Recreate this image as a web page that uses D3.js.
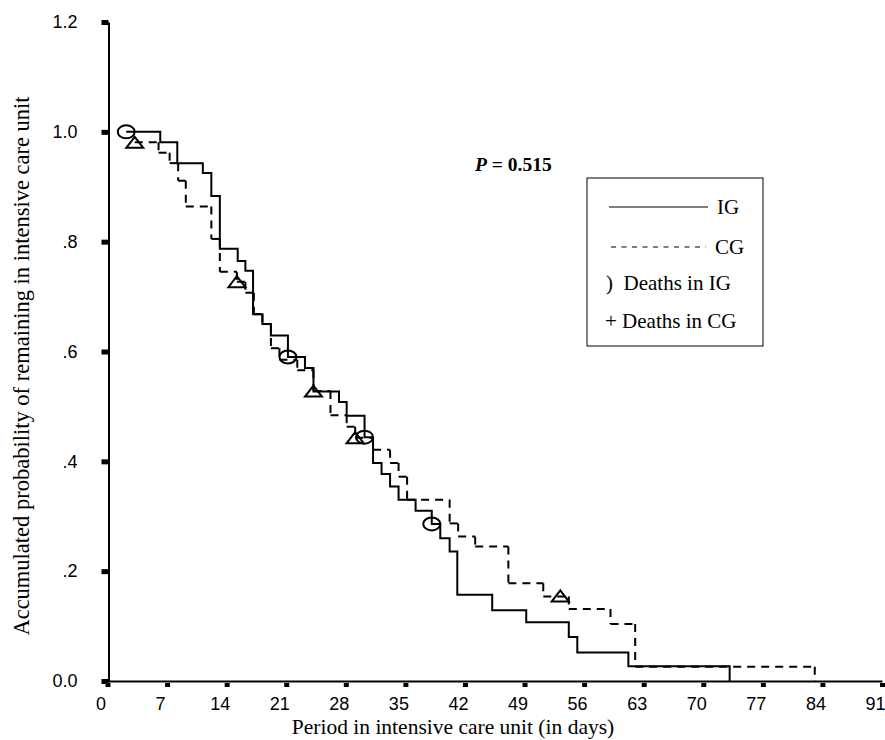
<!DOCTYPE html>
<html>
<head>
<meta charset="utf-8">
<script src="https://cdn.jsdelivr.net/npm/d3@7"></script>
<style>
  body { margin: 0; background: #fff; }
  svg { display: block; }
</style>
</head>
<body>
<svg id="chart" width="885" height="740"></svg>
<script>
// ticks
const xTicks = [0, 7, 14, 21, 28, 35, 42, 49, 56, 63, 70, 77, 84, 91];
const yTicks = [0, 0.2, 0.4, 0.6, 0.8, 1.0, 1.2];
const yTickLabels = ["0.0", ".2", ".4", ".6", ".8", "1.0", "1.2"];

// IG curve (solid): day of step, survival after the step
const igDays = [2.2, 6.2, 8.2, 11.2, 12.2, 13.2, 15.3, 16.2, 17.1, 18.2, 19.2, 21.2, 23.2, 24.2, 27.2, 28.1, 30.2, 31.2, 32.2, 33.2, 34.2, 36.2, 38.1, 39.1, 40.2, 41.1, 45.2, 49.2, 54.2, 55.2, 61.2, 73.1];
const igSurv = [1.0, 0.981, 0.943, 0.925, 0.883, 0.787, 0.765, 0.747, 0.668, 0.650, 0.629, 0.590, 0.570, 0.527, 0.508, 0.483, 0.444, 0.397, 0.377, 0.354, 0.330, 0.310, 0.286, 0.260, 0.236, 0.157, 0.129, 0.107, 0.080, 0.052, 0.027, 0];

// CG curve (dashed)
const cgDays = [3.2, 6.0, 7.3, 8.3, 9.2, 12.2, 13.2, 15.2, 16.2, 17.2, 18.2, 19.2, 20.2, 22.3, 24.2, 26.2, 28.1, 29.1, 31.2, 33.2, 34.2, 35.2, 40.2, 41.2, 43.2, 47.1, 51.2, 54.2, 59.1, 62.0, 83.1];
const cgSurv = [0.981, 0.962, 0.943, 0.911, 0.864, 0.805, 0.745, 0.727, 0.707, 0.668, 0.650, 0.606, 0.585, 0.566, 0.528, 0.484, 0.463, 0.443, 0.421, 0.397, 0.372, 0.330, 0.287, 0.263, 0.245, 0.178, 0.154, 0.131, 0.104, 0.026, 0];

// death marks
const igDeathDays = [2.2, 21.2, 30.2, 38.1];
const igDeathSurv = [1.0, 0.590, 0.444, 0.286];
const cgDeathDays = [3.2, 15.2, 24.2, 29.1, 53.2];
const cgDeathSurv = [0.981, 0.727, 0.528, 0.443, 0.155];

const serif = "Liberation Serif, Times New Roman, serif";
const sans = "Liberation Sans, Arial, sans-serif";

const svg = d3.select("#chart");
const x = d3.scaleLinear().domain([0, 91]).range([107.5, 882]);
const y = d3.scaleLinear().domain([0, 1.2]).range([681, 22]);

// x axis
const xAxis = svg.append("g").attr("transform", "translate(0,681)")
  .call(d3.axisBottom(x).tickValues(xTicks).tickSize(6).tickPadding(10).tickSizeOuter(0));
xAxis.select(".domain").attr("stroke-width", 2);
xAxis.selectAll(".tick line").attr("y1", 2).attr("y2", 6).attr("stroke-width", 5);
xAxis.selectAll(".tick text")
  .attr("dx", -7)
  .attr("font-family", sans).attr("font-size", 18).attr("fill", "#000");

// y axis
const yAxis = svg.append("g").attr("transform", "translate(108.5,0)")
  .call(d3.axisLeft(y).tickValues(yTicks).tickFormat((d, i) => yTickLabels[i]).tickSize(7).tickPadding(24).tickSizeOuter(0));
yAxis.select(".domain").attr("stroke-width", 2);
yAxis.selectAll(".tick line").attr("stroke-width", 5);
yAxis.selectAll(".tick text")
  .attr("font-family", sans).attr("font-size", 18).attr("fill", "#000");

// axis titles
svg.append("text")
  .attr("x", 453).attr("y", 734)
  .attr("text-anchor", "middle")
  .attr("font-family", serif).attr("font-size", 21.5)
  .text("Period in intensive care unit (in days)");

svg.append("text")
  .attr("transform", "translate(29,366) rotate(-90)")
  .attr("text-anchor", "middle")
  .attr("font-family", serif).attr("font-size", 22.5)
  .text("Accumulated probability of remaining in intensive care unit");

// CG dashed steps, each segment restarts the dash like the original
const cgSegs = [];
for (let i = 0; i < cgDays.length - 1; i++) {
  cgSegs.push([cgDays[i], cgSurv[i], cgDays[i + 1], cgSurv[i]]);
  cgSegs.push([cgDays[i + 1], cgSurv[i], cgDays[i + 1], cgSurv[i + 1]]);
}
svg.append("g").selectAll("line").data(cgSegs).join("line")
  .attr("x1", d => x(d[0])).attr("y1", d => y(d[1]))
  .attr("x2", d => x(d[2])).attr("y2", d => y(d[3]))
  .attr("stroke", "#000").attr("stroke-width", 2)
  .attr("stroke-dasharray", "8,6");

// IG solid steps
const igPts = igDays.map((d, i) => [d, igSurv[i]]);
svg.append("path")
  .datum(igPts)
  .attr("d", d3.line().x(d => x(d[0])).y(d => y(d[1])).curve(d3.curveStepAfter))
  .attr("fill", "none").attr("stroke", "#000").attr("stroke-width", 2);

// death marks
svg.append("g").selectAll("ellipse").data(igDeathDays).join("ellipse")
  .attr("cx", (d, i) => x(d)).attr("cy", (d, i) => y(igDeathSurv[i]))
  .attr("rx", 8.5).attr("ry", 6.5)
  .attr("fill", "none").attr("stroke", "#000").attr("stroke-width", 2);

svg.append("g").selectAll("path").data(cgDeathDays).join("path")
  .attr("transform", (d, i) => `translate(${x(d)},${y(cgDeathSurv[i])})`)
  .attr("d", "M-8.5,5.5L0,-5.5L8.5,5.5Z")
  .attr("fill", "none").attr("stroke", "#000").attr("stroke-width", 2);

// P value
const pText = svg.append("text")
  .attr("x", 475).attr("y", 171)
  .attr("font-family", serif).attr("font-size", 19.5)
  .attr("font-weight", "bold");
pText.append("tspan").attr("font-style", "italic").text("P");
pText.append("tspan").text(" = 0.515");

// legend
const legend = svg.append("g");
legend.append("rect")
  .attr("x", 587).attr("y", 178).attr("width", 176).attr("height", 168)
  .attr("fill", "#fff").attr("stroke", "#000").attr("stroke-width", 1);
legend.append("line")
  .attr("x1", 609).attr("x2", 708).attr("y1", 207).attr("y2", 207)
  .attr("stroke", "#000").attr("stroke-width", 1);
legend.append("line")
  .attr("x1", 611).attr("x2", 706).attr("y1", 247).attr("y2", 247)
  .attr("stroke", "#000").attr("stroke-width", 1).attr("stroke-dasharray", "5,5.5");

legend.append("text").attr("x", 717).attr("y", 214)
  .attr("font-family", serif).attr("font-size", 21).text("IG");
legend.append("text").attr("x", 715).attr("y", 254)
  .attr("font-family", serif).attr("font-size", 21).text("CG");
legend.append("text").attr("x", 606).attr("y", 290)
  .attr("font-family", serif).attr("font-size", 21).attr("xml:space", "preserve").text(")  Deaths in IG");
legend.append("text").attr("x", 605).attr("y", 328)
  .attr("font-family", serif).attr("font-size", 21).text("+ Deaths in CG");
</script>
</body>
</html>
